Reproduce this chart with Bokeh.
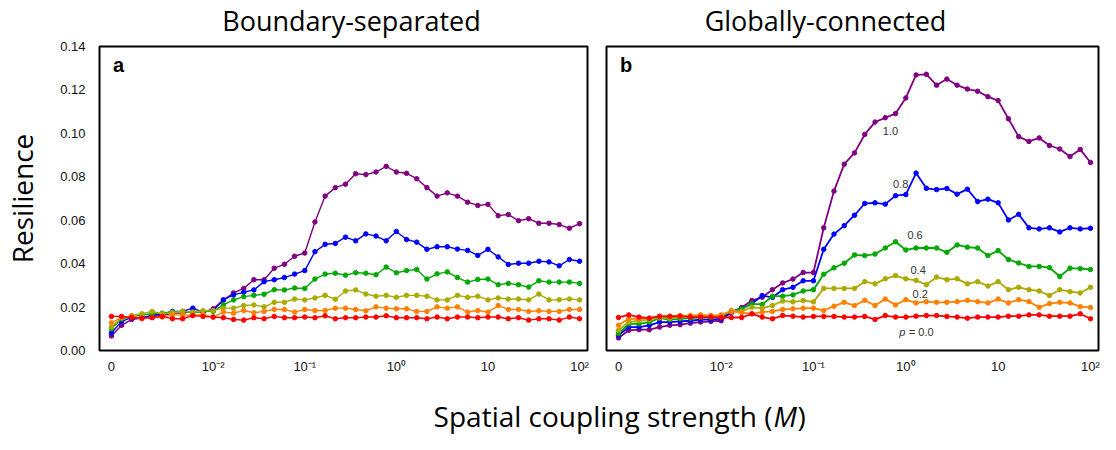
from bokeh.plotting import figure
from bokeh.layouts import column, row
from bokeh.models import Range1d, FixedTicker, NumeralTickFormatter
from bokeh.core.properties import value
from bokeh.embed import file_html
from bokeh.resources import INLINE

# ---------------- data ----------------
idx = list(range(47))  # index of M values: 0, 1e-3..9e-3, 1e-2.., up to 1e2
x_tick_pos = [0, 10, 19, 28, 37, 46]
x_tick_labels = ["0", "10\u207b\u00b2", "10\u207b\u00b9", "10\u2070", "10", "10\u00b2"]
y_ticks = [0.0, 0.02, 0.04, 0.06, 0.08, 0.10, 0.12, 0.14]
p_levels = ["0.0", "0.2", "0.4", "0.6", "0.8", "1.0"]
colors = ["#ff0000", "#ff8000", "#aaaa00", "#00a800", "#0000ff", "#800080"]
panel_titles = ["Boundary-separated", "Globally-connected"]
panel_letters = ["a", "b"]

a_00 = [0.0157, 0.0157, 0.0152, 0.0149, 0.0151, 0.0157, 0.0146, 0.0146, 0.0161, 0.0157,
        0.0154, 0.0151, 0.0143, 0.0140, 0.0151, 0.0146, 0.0157, 0.0151, 0.0151, 0.0154,
        0.0151, 0.0160, 0.0146, 0.0151, 0.0151, 0.0154, 0.0154, 0.0160, 0.0151, 0.0151,
        0.0151, 0.0146, 0.0154, 0.0146, 0.0154, 0.0154, 0.0151, 0.0154, 0.0154, 0.0146,
        0.0151, 0.0140, 0.0146, 0.0146, 0.0140, 0.0154, 0.0146]
a_02 = [0.0128, 0.0151, 0.0157, 0.0146, 0.0152, 0.0154, 0.0164, 0.0164, 0.0161, 0.0166,
        0.0154, 0.0177, 0.0172, 0.0184, 0.0174, 0.0180, 0.0189, 0.0189, 0.0177, 0.0189,
        0.0184, 0.0184, 0.0195, 0.0195, 0.0189, 0.0183, 0.0201, 0.0195, 0.0192, 0.0192,
        0.0180, 0.0180, 0.0201, 0.0195, 0.0201, 0.0177, 0.0184, 0.0177, 0.0207, 0.0189,
        0.0189, 0.0180, 0.0183, 0.0180, 0.0180, 0.0189, 0.0189]
a_04 = [0.0108, 0.0151, 0.0161, 0.0169, 0.0180, 0.0169, 0.0174, 0.0180, 0.0177, 0.0183,
        0.0184, 0.0195, 0.0195, 0.0207, 0.0210, 0.0201, 0.0222, 0.0222, 0.0237, 0.0233,
        0.0242, 0.0254, 0.0236, 0.0274, 0.0279, 0.0260, 0.0250, 0.0254, 0.0245, 0.0254,
        0.0254, 0.0250, 0.0233, 0.0233, 0.0254, 0.0245, 0.0250, 0.0233, 0.0242, 0.0237,
        0.0237, 0.0233, 0.0260, 0.0233, 0.0234, 0.0237, 0.0233]
a_06 = [0.0100, 0.0146, 0.0154, 0.0164, 0.0169, 0.0172, 0.0177, 0.0180, 0.0174, 0.0180,
        0.0180, 0.0210, 0.0233, 0.0248, 0.0254, 0.0259, 0.0280, 0.0279, 0.0288, 0.0286,
        0.0329, 0.0352, 0.0356, 0.0347, 0.0358, 0.0356, 0.0349, 0.0384, 0.0358, 0.0368,
        0.0373, 0.0329, 0.0353, 0.0362, 0.0336, 0.0315, 0.0327, 0.0329, 0.0303, 0.0309,
        0.0303, 0.0292, 0.0321, 0.0315, 0.0315, 0.0315, 0.0309]
a_08 = [0.0081, 0.0134, 0.0151, 0.0152, 0.0161, 0.0169, 0.0180, 0.0180, 0.0195, 0.0177,
        0.0184, 0.0233, 0.0256, 0.0268, 0.0279, 0.0317, 0.0326, 0.0336, 0.0352, 0.0368,
        0.0455, 0.0489, 0.0493, 0.0522, 0.0505, 0.0537, 0.0527, 0.0505, 0.0548, 0.0511,
        0.0499, 0.0466, 0.0478, 0.0478, 0.0467, 0.0461, 0.0438, 0.0466, 0.0431, 0.0396,
        0.0402, 0.0402, 0.0411, 0.0408, 0.0390, 0.0419, 0.0411]
a_10 = [0.0067, 0.0116, 0.0143, 0.0149, 0.0158, 0.0161, 0.0172, 0.0172, 0.0180, 0.0177,
        0.0192, 0.0233, 0.0265, 0.0286, 0.0326, 0.0326, 0.0379, 0.0397, 0.0434, 0.0449,
        0.0592, 0.0711, 0.0750, 0.0766, 0.0814, 0.0810, 0.0822, 0.0848, 0.0822, 0.0816,
        0.0791, 0.0750, 0.0711, 0.0726, 0.0711, 0.0683, 0.0668, 0.0673, 0.0621, 0.0626,
        0.0598, 0.0607, 0.0586, 0.0586, 0.0580, 0.0563, 0.0584]

b_00 = [0.0152, 0.0164, 0.0154, 0.0149, 0.0157, 0.0157, 0.0158, 0.0154, 0.0154, 0.0154,
        0.0152, 0.0152, 0.0152, 0.0169, 0.0154, 0.0146, 0.0161, 0.0158, 0.0154, 0.0157,
        0.0157, 0.0157, 0.0154, 0.0154, 0.0157, 0.0143, 0.0161, 0.0154, 0.0154, 0.0158,
        0.0161, 0.0161, 0.0157, 0.0154, 0.0149, 0.0154, 0.0154, 0.0154, 0.0158, 0.0158,
        0.0164, 0.0164, 0.0158, 0.0158, 0.0158, 0.0169, 0.0146]
b_02 = [0.0116, 0.0146, 0.0146, 0.0149, 0.0158, 0.0158, 0.0161, 0.0161, 0.0164, 0.0161,
        0.0164, 0.0180, 0.0174, 0.0169, 0.0177, 0.0180, 0.0189, 0.0192, 0.0195, 0.0195,
        0.0184, 0.0204, 0.0222, 0.0207, 0.0231, 0.0207, 0.0237, 0.0210, 0.0234, 0.0219,
        0.0225, 0.0222, 0.0222, 0.0225, 0.0231, 0.0225, 0.0219, 0.0237, 0.0219, 0.0234,
        0.0225, 0.0199, 0.0216, 0.0222, 0.0219, 0.0202, 0.0198]
b_04 = [0.0093, 0.0131, 0.0137, 0.0143, 0.0152, 0.0149, 0.0154, 0.0158, 0.0161, 0.0158,
        0.0161, 0.0184, 0.0180, 0.0199, 0.0195, 0.0207, 0.0228, 0.0224, 0.0230, 0.0224,
        0.0286, 0.0286, 0.0286, 0.0286, 0.0317, 0.0307, 0.0330, 0.0345, 0.0330, 0.0323,
        0.0303, 0.0338, 0.0326, 0.0330, 0.0307, 0.0317, 0.0297, 0.0317, 0.0280, 0.0291,
        0.0280, 0.0274, 0.0253, 0.0280, 0.0271, 0.0265, 0.0291]
b_06 = [0.0078, 0.0123, 0.0123, 0.0131, 0.0149, 0.0142, 0.0146, 0.0149, 0.0152, 0.0152,
        0.0158, 0.0180, 0.0192, 0.0215, 0.0212, 0.0250, 0.0250, 0.0256, 0.0274, 0.0280,
        0.0351, 0.0381, 0.0402, 0.0440, 0.0437, 0.0444, 0.0472, 0.0501, 0.0463, 0.0472,
        0.0472, 0.0472, 0.0452, 0.0486, 0.0476, 0.0472, 0.0437, 0.0460, 0.0419, 0.0403,
        0.0387, 0.0387, 0.0382, 0.0341, 0.0379, 0.0377, 0.0373]
b_08 = [0.0070, 0.0108, 0.0108, 0.0116, 0.0131, 0.0131, 0.0134, 0.0137, 0.0142, 0.0142,
        0.0146, 0.0177, 0.0192, 0.0215, 0.0253, 0.0245, 0.0280, 0.0291, 0.0321, 0.0321,
        0.0466, 0.0536, 0.0575, 0.0623, 0.0677, 0.0680, 0.0674, 0.0713, 0.0718, 0.0817,
        0.0747, 0.0741, 0.0746, 0.0720, 0.0743, 0.0686, 0.0697, 0.0680, 0.0601, 0.0627,
        0.0565, 0.0560, 0.0565, 0.0546, 0.0565, 0.0560, 0.0563]
b_10 = [0.0058, 0.0093, 0.0096, 0.0096, 0.0108, 0.0116, 0.0119, 0.0126, 0.0131, 0.0134,
        0.0137, 0.0177, 0.0198, 0.0230, 0.0245, 0.0280, 0.0311, 0.0329, 0.0359, 0.0359,
        0.0565, 0.0734, 0.0858, 0.0910, 0.0995, 0.1052, 0.1072, 0.1091, 0.1163, 0.1269,
        0.1272, 0.1222, 0.1250, 0.1222, 0.1204, 0.1194, 0.1169, 0.1151, 0.1067, 0.0985,
        0.0963, 0.0979, 0.0944, 0.0928, 0.0893, 0.0926, 0.0866]

series_a = [a_00, a_02, a_04, a_06, a_08, a_10]
series_b = [b_00, b_02, b_04, b_06, b_08, b_10]

# curve labels in panel b for p = 0.2, 0.4, 0.6, 0.8, 1.0 (positions in data units)
lab_x = [29.4, 29.2, 28.9, 27.5, 26.5]
lab_y = [0.0258, 0.0373, 0.0534, 0.0765, 0.1009]

TICK_FONT = value("Liberation Sans")
BIG_FONT = "Open Sans"


def make_panel(width, border_left, border_right, series, letter, line_w):
    p = figure(width=width, height=342, title=None,
               x_range=Range1d(-1.17, 46.78), y_range=Range1d(0, 0.14),
               output_backend="svg", toolbar_location=None,
               min_border_left=border_left, min_border_right=border_right,
               min_border_top=8, min_border_bottom=30)
    p.xgrid.visible = False
    p.ygrid.visible = False
    p.outline_line_color = "black"
    p.outline_line_width = 2
    p.background_fill_color = "white"
    p.border_fill_color = "white"

    p.xaxis.ticker = FixedTicker(ticks=x_tick_pos)
    p.xaxis.major_label_overrides = dict(zip(x_tick_pos, x_tick_labels))
    p.yaxis.ticker = FixedTicker(ticks=y_ticks)
    p.yaxis.formatter = NumeralTickFormatter(format="0.00")
    for ax in (p.xaxis[0], p.yaxis[0]):
        ax.axis_line_color = None
        ax.major_tick_line_color = None
        ax.minor_tick_line_color = None
        ax.major_tick_in = 0
        ax.major_tick_out = 0
        ax.major_label_text_font = "Liberation Sans"
        ax.major_label_text_font_size = "13px"
        ax.major_label_text_color = "#111111"
    p.xaxis.major_label_standoff = 8
    p.yaxis.major_label_standoff = 14

    for ys, c in reversed(list(zip(series, colors))):
        p.line(idx, ys, line_color=c, line_width=line_w)
        p.scatter(idx, ys, size=4.5, fill_color=c, line_color=c)

    p.text(x=[0.15], y=[0.1313], text=[letter], text_font=value("Liberation Sans"),
           text_font_size="20px", text_font_style="bold", text_color="black",
           text_align="left", text_baseline="middle")
    return p


p1 = make_panel(590, 95, 3, series_a, panel_letters[0], 1.4)
p1.yaxis.axis_label = "Resilience"
p1.yaxis.axis_label_text_font = BIG_FONT
p1.yaxis.axis_label_text_font_size = "28px"
p1.yaxis.axis_label_text_font_style = "normal"
p1.yaxis.axis_label_text_color = "black"
p1.yaxis.axis_label_standoff = 16

p2 = make_panel(510, 16, 2, series_b, panel_letters[1], 1.8)
p2.yaxis.visible = False
p2.text(x=lab_x, y=lab_y, text=p_levels[1:],
        text_font=TICK_FONT, text_font_size="11px", text_color="#333333",
        text_align="center", text_baseline="middle")
# "p = 0.0"
p2.text(x=[27.95], y=[0.0086], text=["p"], text_font=TICK_FONT, text_font_size="11px",
        text_font_style="italic", text_color="#333333", text_align="right",
        text_baseline="middle")
p2.text(x=[28.3], y=[0.0086], text=["= " + p_levels[0]], text_font=TICK_FONT,
        text_font_size="11px", text_color="#333333", text_align="left",
        text_baseline="middle")


def strip(height, y_top):
    s = figure(width=1100, height=height, title=None,
               x_range=Range1d(8, 1108), y_range=Range1d(y_top + height, y_top),
               x_axis_type=None, y_axis_type=None, output_backend="svg",
               toolbar_location=None, min_border=0)
    s.outline_line_color = None
    s.xgrid.visible = False
    s.ygrid.visible = False
    s.background_fill_color = "white"
    s.border_fill_color = "white"
    return s


top = strip(38, 8)
top.text(x=[359, 833], y=[27.5, 27.5], text=panel_titles, text_font=value(BIG_FONT),
         text_font_size="27px", text_color="black", text_align="center",
         text_baseline="middle")

bottom = strip(54, 388)
bottom.text(x=[780], y=[423], text=["Spatial coupling strength ("], text_font=value(BIG_FONT),
            text_font_size="28px", text_color="black", text_align="right",
            text_baseline="middle")
bottom.text(x=[781], y=[423], text=["M"], text_font=value(BIG_FONT),
            text_font_size="28px", text_font_style="italic", text_color="black",
            text_align="left", text_baseline="middle")
bottom.text(x=[805], y=[423], text=[")"], text_font=value(BIG_FONT),
            text_font_size="28px", text_color="black", text_align="left",
            text_baseline="middle")

layout = column(top, row(p1, p2), bottom)
open("out.html", "w").write(file_html(layout, INLINE))
